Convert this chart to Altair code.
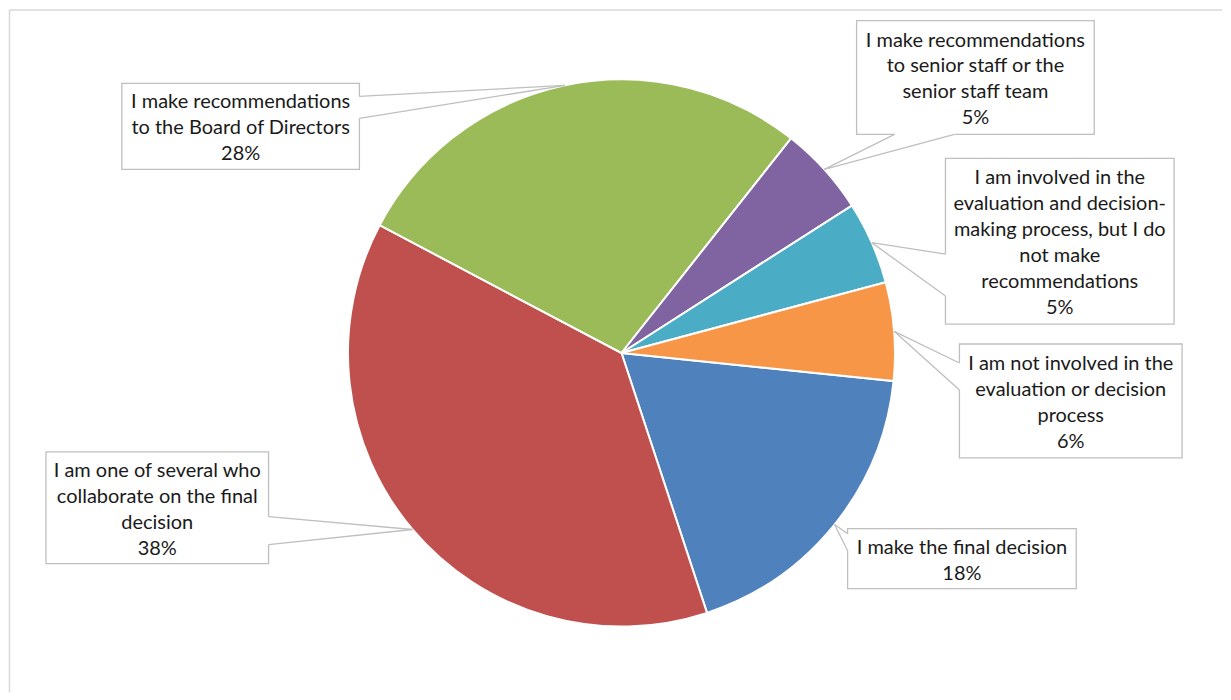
import altair as alt
import pandas as pd

# ---- data ----
categories = [
    "I make the final decision",
    "I am one of several who collaborate on the final decision",
    "I make recommendations to the Board of Directors",
    "I make recommendations to senior staff or the senior staff team",
    "I am involved in the evaluation and decision-making process, but I do not make recommendations",
    "I am not involved in the evaluation or decision process",
]
values = [18.3, 37.8, 27.9, 5.3, 4.9, 5.8]
pct_labels = ["18%", "38%", "28%", "5%", "5%", "6%"]
label_lines = [
    ["I make the final decision"],
    ["I am one of several who", "collaborate on the final", "decision"],
    ["I make recommendations", "to the Board of Directors"],
    ["I make recommendations", "to senior staff or the", "senior staff team"],
    ["I am involved in the", "evaluation and decision-", "making process, but I do", "not make", "recommendations"],
    ["I am not involved in the", "evaluation or decision", "process"],
]
colors = ["#4F81BD", "#C0504D", "#9BBB59", "#8064A2", "#4BACC6", "#F79646"]

# ---- layout (page pixel coordinates) ----
W, H = 1215, 684
CX, CY, R = 621.5, 352.0, 274.0
START_DEG = 95.9
LH = 26
box_x0 = [848, 45, 121, 857, 946, 960]
box_x1 = [1077, 268, 359, 1095, 1175, 1183]
box_y0 = [528, 451, 82, 19, 157, 343]
box_y1 = [588, 563, 168, 133, 323, 457]
base1 = [(848, 533), (268, 516), (359, 95), (895, 133), (946, 253), (960, 362)]
base2 = [(848, 550), (268, 544), (359, 117), (955, 133), (946, 295), (960, 389)]

df = pd.DataFrame({
    "cat": categories,
    "value": values,
    "order": list(range(len(categories))),
    "label": ["\n".join(l + [p]) for l, p in zip(label_lines, pct_labels)],
    "nlines": [len(l) + 1 for l in label_lines],
    "bx0": box_x0, "bx1": box_x1, "by0": box_y0, "by1": box_y1,
    "b1x": [b[0] for b in base1], "b1y": [b[1] for b in base1],
    "b2x": [b[0] for b in base2], "b2y": [b[1] for b in base2],
})

xs = alt.Scale(domain=[8, 8 + W], range=[0, W])
ys = alt.Scale(domain=[8, 8 + H], range=[0, H])

start = f"({START_DEG}*PI/180)"
base = (
    alt.Chart(df)
    .transform_joinaggregate(total="sum(value)")
    .transform_window(cum="sum(value)", sort=[alt.SortField("order")], frame=[None, 0])
    .transform_calculate(
        t0=f"{start} + 2*PI*(datum.cum - datum.value)/datum.total",
        t1=f"{start} + 2*PI*datum.cum/datum.total",
    )
    .transform_calculate(tm="(datum.t0 + datum.t1)/2")
    .transform_calculate(
        ax=f"{CX} + {R}*sin(datum.tm)",
        ay=f"{CY} - {R}*cos(datum.tm)",
        tx="(datum.bx0 + datum.bx1)/2",
        ty=f"(datum.by0 + datum.by1)/2 + 2 - (datum.nlines - 1)*{LH}/2",
    )
)

pie = base.mark_arc(radius=R, stroke="white", strokeWidth=2).encode(
    theta=alt.Theta("t0:Q", scale=None),
    theta2="t1:Q",
    color=alt.Color("cat:N", scale=alt.Scale(domain=categories, range=colors), legend=None),
    x=alt.value(CX - 8),
    y=alt.value(CY - 8),
)

GREY = "#bfbfbf"
boxes = base.mark_rect(fill="white", stroke=GREY, strokeWidth=1.3).encode(
    x=alt.X("bx0:Q", scale=xs, axis=None), x2="bx1:Q",
    y=alt.Y("by0:Q", scale=ys, axis=None), y2="by1:Q",
)
cover = base.mark_rule(stroke="white", strokeWidth=3).encode(
    x=alt.X("b1x:Q", scale=xs, axis=None), x2="b2x:Q",
    y=alt.Y("b1y:Q", scale=ys, axis=None), y2="b2y:Q",
)
wedge1 = base.mark_rule(stroke=GREY, strokeWidth=1.3).encode(
    x=alt.X("b1x:Q", scale=xs, axis=None), x2="ax:Q",
    y=alt.Y("b1y:Q", scale=ys, axis=None), y2="ay:Q",
)
wedge2 = base.mark_rule(stroke=GREY, strokeWidth=1.3).encode(
    x=alt.X("b2x:Q", scale=xs, axis=None), x2="ax:Q",
    y=alt.Y("b2y:Q", scale=ys, axis=None), y2="ay:Q",
)
texts = base.mark_text(
    font="Lato", fontSize=20, lineHeight=LH, lineBreak="\n",
    align="center", baseline="middle", color="#1a1a1a",
).encode(
    x=alt.X("tx:Q", scale=xs, axis=None),
    y=alt.Y("ty:Q", scale=ys, axis=None),
    text="label:N",
)

frame_df = pd.DataFrame({"x0": [8.5, 8.5], "x1": [8.5, 8 + W], "y0": [8.5, 8.5], "y1": [8 + H, 8.5]})
frame = alt.Chart(frame_df).mark_rule(stroke="#d9d9d9", strokeWidth=1.5).encode(
    x=alt.X("x0:Q", scale=xs, axis=None), x2="x1:Q",
    y=alt.Y("y0:Q", scale=ys, axis=None), y2="y1:Q",
)

chart = (
    alt.layer(frame, pie, boxes, cover, wedge1, wedge2, texts)
    .properties(width=W, height=H, padding=0)
    .configure_view(stroke=None)
)
chart.save("out.html", embed_options={"renderer": "svg", "actions": False})
